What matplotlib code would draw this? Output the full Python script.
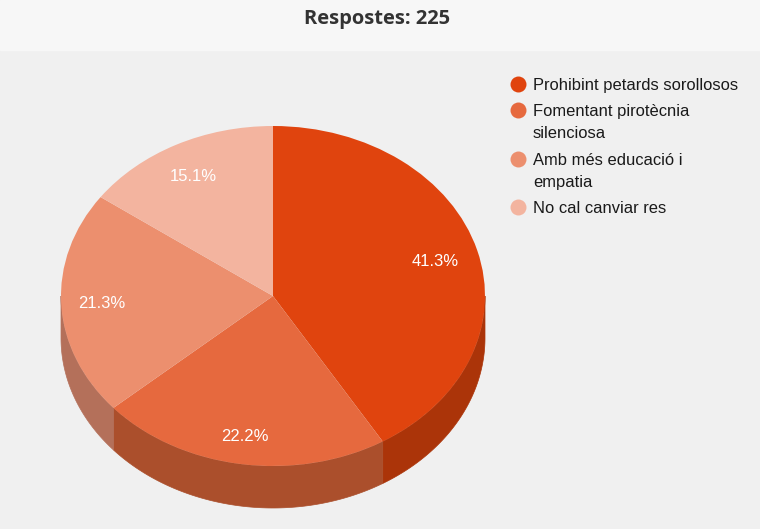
import matplotlib
matplotlib.use("Agg")
import matplotlib.pyplot as plt
import numpy as np

title = "Respostes: 225"
labels = ["Prohibint petards sorollosos", "Fomentant pirotècnia\nsilenciosa",
          "Amb més educació i\nempatia", "No cal canviar res"]
values = [41.3, 22.2, 21.3, 15.1]
colors = ["#e0440e", "#e6693e", "#ec8f6e", "#f3b49f"]
side_colors = ["#ab3409", "#ab4f2c", "#b4705a", "#b98a7a"]

W, H = 760, 529
cx, cy, rx, ry, depth = 273, 296, 212, 170, 42

fig = plt.figure(figsize=(W / 100, H / 100), dpi=100, facecolor="#f0f0f0")
ax = fig.add_axes([0, 0, 1, 1])

# grey page, lighter strip behind the heading
fig.patches.append(plt.Rectangle((0, 1 - 50 / H), 1, 50 / H, transform=fig.transFigure,
                                 color="#f7f7f7", zorder=-1))

# side wall of the pie, only the front half shows
d = depth / ry
edges = np.cumsum([0] + values) / sum(values) * 2 * np.pi
for i in range(len(values)):
    a = np.linspace(max(edges[i], np.pi / 2), min(edges[i + 1], 3 * np.pi / 2), 100)
    if a[-1] <= a[0]:
        continue
    xs = np.sin(a)
    ys = np.cos(a)
    ax.fill(np.r_[xs, xs[::-1]], np.r_[ys, ys[::-1] - d], color=side_colors[i], lw=0.5, zorder=1)

wedges, texts, autos = ax.pie(values, colors=colors, startangle=90, counterclock=False,
                              autopct="%.1f%%", pctdistance=0.80,
                              textprops=dict(color="white", fontsize=12, family="Liberation Sans"))
for w in wedges:
    w.set_zorder(2)
# small pixel nudges for the percent labels
nudge_x = [-1, -2, -2, -2]
nudge_y = [-2, -6, -1, -1]
for t, nx, ny in zip(autos, nudge_x, nudge_y):
    t.set_zorder(3)
    px, py = t.get_position()
    t.set_position((px + nx / rx, py + ny / ry))

ax.set_aspect("auto")
ax.set_xlim((0 - cx) / rx, (W - cx) / rx)
ax.set_ylim((cy - H) / ry, cy / ry)
ax.axis("off")

fig.text(377 / W, 1 - 19 / H, title, ha="center", va="center", fontsize=14.5,
         fontweight="bold", family="Open Sans", color="#333333")

# legend, dot sits on the first line of each entry
legend_y = [84, 110, 159, 207]
for label, col, y in zip(labels, colors, legend_y):
    fig.text(533 / W, 1 - (y - 6) / H, label, ha="left", va="top", fontsize=11.9,
             family="Liberation Sans", color="#1a1a1a", linespacing=1.58)
    fig.add_artist(matplotlib.lines.Line2D([518 / W], [1 - y / H], marker="o", ms=11.5,
                                           color=col, mew=0, transform=fig.transFigure))

fig.savefig("out.png", dpi=100, facecolor=fig.get_facecolor())
